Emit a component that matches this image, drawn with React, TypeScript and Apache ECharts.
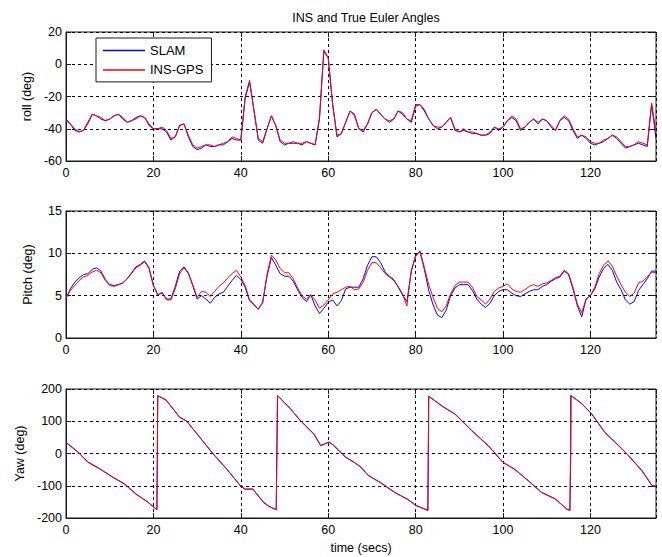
import React, { useEffect, useRef } from "react";
import * as echarts from "echarts";

const FONT = "'Liberation Sans', Arial, Helvetica, sans-serif";

// time in seconds for roll / pitch samples (one sample per second)
const timeSec: number[] = Array.from({ length: 136 }, (_, i) => i);

const rollIns = [
  -35, -37, -40, -42, -41, -37, -31, -32, -33, -35,
  -34, -32, -31, -33, -36, -35, -34, -32, -33, -37,
  -40, -40, -39, -41, -46, -45, -38, -37, -44, -50,
  -52, -51, -50, -50, -51, -50, -49, -48, -45, -46,
  -47, -20, -10, -29, -46, -48, -40, -32, -38, -47,
  -49, -49, -48, -49, -49, -48, -49, -50, -33, 9,
  4, -25, -44, -43, -36, -29, -32, -40, -41, -37,
  -30, -28, -31, -34, -35, -34, -29, -30, -34, -35,
  -25, -25, -28, -34, -38, -39, -39, -36, -33, -40,
  -42, -40, -42, -42, -43, -44, -44, -42, -39, -40,
  -39, -35, -32, -34, -40, -39, -36, -34, -36, -34,
  -35, -38, -41, -35, -32, -34, -40, -45, -44, -45,
  -48, -49, -49, -47, -46, -44, -45, -48, -51, -51,
  -50, -48, -49, -50, -24, -42,
];

const rollSlam = [
  -34, -37, -41, -42, -41, -36, -31, -32, -34, -35,
  -34, -32, -31, -34, -36, -35, -33, -32, -33, -38,
  -40, -40, -40, -42, -47, -45, -38, -37, -45, -51,
  -53, -52, -50, -51, -51, -50, -50, -48, -46, -47,
  -47, -21, -11, -28, -47, -49, -40, -32, -38, -48,
  -50, -49, -49, -49, -50, -48, -49, -50, -34, 8,
  4, -24, -45, -43, -36, -29, -31, -40, -42, -37,
  -30, -28, -31, -34, -36, -34, -29, -31, -34, -36,
  -26, -25, -29, -34, -38, -40, -39, -36, -33, -41,
  -42, -41, -42, -43, -43, -44, -44, -43, -39, -41,
  -39, -35, -33, -35, -41, -39, -36, -34, -37, -34,
  -35, -39, -41, -35, -33, -35, -41, -46, -44, -46,
  -49, -50, -49, -48, -46, -44, -46, -49, -52, -51,
  -50, -49, -50, -51, -25, -46,
];

const pitchIns = [
  4.7, 5.6, 6.2, 6.8, 7.2, 7.4, 7.8, 8.0, 7.7, 6.8,
  6.2, 6.1, 6.3, 6.5, 7.0, 7.6, 8.3, 8.6, 9.0, 8.2,
  6.2, 5.1, 5.4, 4.5, 4.5, 5.8, 7.6, 8.3, 7.6, 6.3,
  4.8, 5.5, 5.4, 4.9, 5.5, 6.1, 6.5, 7.1, 7.6, 8.0,
  7.2, 6.2, 4.5, 4.0, 3.4, 4.2, 7.5, 9.8, 9.2, 8.2,
  7.7, 7.7, 7.0, 5.9, 5.0, 4.6, 5.1, 4.5, 3.5, 3.9,
  4.5, 5.2, 5.4, 5.7, 6.0, 6.1, 5.7, 5.8, 6.6, 8.0,
  8.9, 8.9, 8.3, 7.6, 7.2, 6.8, 6.1, 5.2, 3.8, 8.0,
  9.6, 10.3, 8.3, 6.3, 4.8, 3.5, 3.1, 3.8, 5.2, 6.2,
  6.6, 6.6, 6.6, 6.0, 4.9, 4.5, 4.0, 4.6, 5.5, 5.9,
  6.1, 6.4, 5.8, 5.5, 5.4, 5.7, 6.1, 6.3, 6.1, 6.4,
  6.5, 6.8, 7.1, 7.3, 8.0, 7.6, 6.0, 4.0, 3.0, 4.6,
  5.0, 6.0, 7.6, 8.6, 9.1, 8.5, 7.3, 6.3, 5.4, 4.9,
  5.3, 6.5, 6.7, 7.2, 7.8, 7.7,
];

const pitchSlam = [
  4.7, 5.8, 6.6, 7.1, 7.5, 7.6, 8.1, 8.3, 7.9, 6.9,
  6.3, 6.2, 6.3, 6.5, 7.0, 7.7, 8.4, 8.7, 9.1, 8.3,
  6.2, 5.1, 5.3, 4.6, 4.6, 6.1, 7.9, 8.4, 7.7, 6.2,
  4.6, 5.0, 4.6, 4.1, 4.8, 5.2, 5.4, 6.1, 6.8, 7.4,
  6.9, 6.0, 4.4, 3.9, 3.4, 4.2, 7.3, 9.5, 8.6, 7.6,
  7.3, 7.3, 6.7, 5.7, 4.8, 4.3, 5.1, 3.8, 2.9, 3.5,
  4.2, 4.5, 3.8, 4.4, 5.8, 6.0, 6.0, 6.0, 7.0, 8.6,
  9.6, 9.6, 8.9, 7.8, 7.3, 6.9, 6.0, 5.1, 4.3, 7.8,
  9.8, 10.2, 8.1, 5.6, 3.9, 2.7, 2.4, 3.3, 5.0, 5.9,
  6.3, 6.3, 6.3, 5.6, 4.6, 4.0, 3.6, 4.1, 5.0, 5.5,
  5.7, 5.7, 5.3, 5.0, 4.9, 5.2, 5.5, 5.7, 5.7, 6.1,
  6.3, 6.7, 7.0, 7.2, 7.9, 7.5, 5.8, 3.8, 2.5, 4.6,
  5.0, 5.8, 7.2, 8.2, 8.7, 8.0, 6.6, 5.7, 4.5, 4.0,
  4.3, 5.6, 6.3, 7.0, 7.9, 7.9,
];

const yawInsTime = [
  0, 3, 4.9, 7.6, 10.7, 13.4, 16, 18.7, 20.8, 21.0,
  22.9, 24.5, 26, 27.6, 30.6, 33.7, 36.8, 40, 41, 42.7,
  45.2, 46.4, 48.1, 48.4, 51.3, 53.6, 56.7, 58.3, 60.2, 61.3,
  64, 65.9, 67.5, 69.1, 72.1, 75.2, 78.2, 80, 82.8, 83,
  86.3, 89, 92.8, 96.6, 100, 102.7, 105.8, 108.8, 111.9, 114.6,
  115.3, 115.6, 118, 120.3, 123.3, 127.2, 128.7, 131.8, 134.1, 135,
];
const yawIns = [
  35, 2, -25, -46, -74, -94, -125, -151, -174, 180,
  165, 139, 113, 100, 51, -1, -48, -102, -110, -110,
  -151, -164, -174, 180, 139, 103, 61, 25, 35, 25,
  -11, -27, -42, -68, -91, -120, -143, -160, -177, 178,
  144, 123, 72, 25, -27, -50, -84, -120, -141, -172,
  -177, 180, 154, 123, 66, 15, -6, -53, -99, -101,
];

const yawSlamTime = [
  0, 3, 4.9, 7.6, 10.7, 13.4, 16, 18.7, 20.8, 21.0,
  22.9, 24.5, 26, 27.6, 30.6, 33.7, 36.8, 40, 41, 42.7,
  45.2, 46.4, 48.1, 48.4, 51.3, 53.6, 56.7, 58.3, 60.2, 61.3,
  64, 65.9, 67.5, 69.1, 72.1, 75.2, 78.2, 80, 82.8, 83,
  86.3, 89, 92.8, 96.6, 100, 102.7, 105.8, 108.8, 111.9, 114.6,
  115.3, 115.5, 115.5, 118, 120.3, 123.3, 127.2, 128.7, 131.8, 134.1, 135,
];
const yawSlam = [
  34, 1, -26, -47, -73, -95, -126, -150, -175, 179,
  166, 138, 112, 101, 50, -2, -49, -101, -111, -110,
  -152, -163, -175, 179, 140, 102, 60, 24, 36, 24,
  -12, -27, -43, -67, -92, -121, -142, -161, -176, 177,
  145, 122, 71, 24, -28, -49, -85, -121, -140, -173,
  -176, 0, 180, 155, 122, 65, 14, -7, -54, -100, -103,
];

const xTicks = { min: 0, max: 135, interval: 20 };
const yRanges = [
  { name: "roll (deg)", min: -60, max: 20, interval: 20 },
  { name: "Pitch (deg)", min: 0, max: 15, interval: 5 },
  { name: "Yaw (deg)", min: -200, max: 200, interval: 100 },
];

const pairs = (t: number[], v: number[]) => t.map((x, i) => [x, v[i]]);

export default function App() {
  const ref = useRef<HTMLDivElement>(null);
  useEffect(() => {
    if (!ref.current) return;
    const chart = echarts.init(ref.current, undefined, { renderer: "svg" });
    const frame = "#1a1a1a";
    const gridTops = [32, 211, 389];
    const gridHeights = [129, 127, 129];
    const grids = gridTops.map((top, i) => ({
      left: 66,
      top,
      width: 590,
      height: gridHeights[i],
      show: true,
      borderColor: frame,
      borderWidth: 1,
      backgroundColor: "#fff",
    }));
    const splitLine = {
      show: true,
      lineStyle: { color: "#000", type: [3, 3] as any, width: 1 },
    };
    const label = { color: "#000", fontFamily: FONT, fontSize: 12.5 };
    const xAxes: any[] = [];
    const yAxes: any[] = [];
    for (let i = 0; i < 3; i++) {
      xAxes.push({
        type: "value",
        gridIndex: i,
        ...xTicks,
        axisLine: { show: true, onZero: false, lineStyle: { color: frame } },
        axisTick: { show: true, inside: true, length: 5, lineStyle: { color: frame } },
        axisLabel: { ...label, margin: 5, showMaxLabel: false },
        splitLine,
        ...(i === 2
          ? {
              name: "time (secs)",
              nameLocation: "middle",
              nameGap: 23,
              nameTextStyle: { ...label },
            }
          : {}),
      });
      yAxes.push({
        type: "value",
        gridIndex: i,
        min: yRanges[i].min,
        max: yRanges[i].max,
        interval: yRanges[i].interval,
        name: yRanges[i].name,
        nameLocation: "middle",
        nameGap: 32,
        nameTextStyle: { ...label },
        axisLine: { show: true, onZero: false, lineStyle: { color: frame } },
        axisTick: { show: true, inside: true, length: 5, lineStyle: { color: frame } },
        axisLabel: { ...label, margin: 4 },
        splitLine,
      });
    }
    for (let i = 0; i < 3; i++) {
      xAxes.push({
        type: "value",
        gridIndex: i,
        position: "top",
        ...xTicks,
        axisLine: { show: false, onZero: false },
        axisTick: { show: true, inside: true, length: 5, lineStyle: { color: frame } },
        axisLabel: { show: false },
        splitLine: { show: false },
      });
      yAxes.push({
        type: "value",
        gridIndex: i,
        position: "right",
        min: yRanges[i].min,
        max: yRanges[i].max,
        interval: yRanges[i].interval,
        axisLine: { show: false, onZero: false },
        axisTick: { show: true, inside: true, length: 5, lineStyle: { color: frame } },
        axisLabel: { show: false },
        splitLine: { show: false },
      });
    }
    const line = (name: string, color: string, idx: number, data: number[][]) => ({
      name,
      type: "line",
      xAxisIndex: idx,
      yAxisIndex: idx,
      data,
      symbol: "none",
      lineStyle: { color, width: 1 },
      itemStyle: { color },
      z: name === "SLAM" ? 2 : 3,
    });
    chart.setOption({
      animation: false,
      backgroundColor: "#fff",
      title: {
        text: "INS and True Euler Angles",
        left: 361,
        top: 6,
        textAlign: "center",
        textStyle: { color: "#000", fontFamily: FONT, fontSize: 12.5, fontWeight: "normal" },
      },
      legend: {
        orient: "vertical",
        left: 96,
        top: 38,
        data: ["SLAM", "INS-GPS"],
        icon: "rect",
        itemWidth: 42,
        itemHeight: 1.5,
        itemGap: 5.4,
        padding: [5.5, 8, 5, 7],
        borderColor: frame,
        borderWidth: 1,
        backgroundColor: "#fff",
        textStyle: { color: "#000", fontFamily: FONT, fontSize: 13, lineHeight: 14 },
        z: 10,
      },
      grid: grids,
      xAxis: xAxes,
      yAxis: yAxes,
      series: [
        line("SLAM", "#0000ff", 0, pairs(timeSec, rollSlam)),
        line("INS-GPS", "#ff0000", 0, pairs(timeSec, rollIns)),
        line("SLAM", "#0000ff", 1, pairs(timeSec, pitchSlam)),
        line("INS-GPS", "#ff0000", 1, pairs(timeSec, pitchIns)),
        line("SLAM", "#0000ff", 2, pairs(yawSlamTime, yawSlam)),
        line("INS-GPS", "#ff0000", 2, pairs(yawInsTime, yawIns)),
      ],
    });
    return () => chart.dispose();
  }, []);
  return <div ref={ref} style={{ width: 662, height: 557, position: "absolute", left: 0, top: 0 }} />;
}
